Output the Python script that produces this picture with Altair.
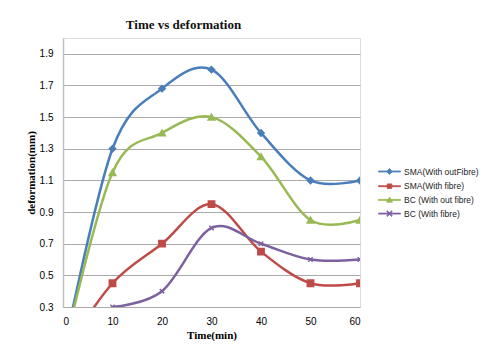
import altair as alt
import pandas as pd

series_names = ["SMA(With outFibre)", "SMA(With fibre)", "BC (With out fibre)", "BC (With fibre)"]
series_colors = ["#4A7EBB", "#BE4B48", "#98B954", "#7D60A0"]

time_full = [0, 10, 20, 30, 40, 50, 60]
sma_without = [0, 1.3, 1.68, 1.8, 1.4, 1.1, 1.1]
sma_with = [0, 0.45, 0.7, 0.95, 0.65, 0.45, 0.45]
bc_without = [0, 1.15, 1.4, 1.5, 1.25, 0.85, 0.85]
time_bc_with = [10, 20, 30, 40, 50, 60]
bc_with = [0.3, 0.4, 0.8, 0.7, 0.6, 0.6]

x_ticks = [0, 10, 20, 30, 40, 50, 60]
y_ticks = [0.3, 0.5, 0.7, 0.9, 1.1, 1.3, 1.5, 1.7, 1.9]

rows = []
for name, times, vals in [
    (series_names[0], time_full, sma_without),
    (series_names[1], time_full, sma_with),
    (series_names[2], time_full, bc_without),
    (series_names[3], time_bc_with, bc_with),
]:
    for t, v in zip(times, vals):
        rows.append({"series": name, "time": t, "value": v})
df = pd.DataFrame(rows)

plot_shapes = [
    ("diamond", 40),
    ("square", 40),
    ("triangle-up", 45),
    ("M-0.7,-0.7L0.7,0.7M-0.7,0.7L0.7,-0.7", 40),
]
# legend glyphs: a short line with the series marker on it (filled paths)
bar = "M-1.57,-0.07H1.57V0.07H-1.57Z"
legend_paths = [
    bar + "M0,-0.43L0.38,0L0,0.43L-0.38,0Z",
    bar + "M-0.33,-0.33H0.33V0.33H-0.33Z",
    bar + "M0,-0.4L0.42,0.32H-0.42Z",
    bar + "M-0.4,-0.3L-0.3,-0.4L0.4,0.3L0.3,0.4Z"
        + "M-0.4,0.3L0.3,-0.4L0.4,-0.3L-0.3,0.4Z",
]

color_scale = alt.Scale(domain=series_names, range=series_colors)
x_enc = alt.X("time:Q", scale=alt.Scale(domain=[0, 60], nice=False),
              axis=alt.Axis(values=x_ticks, tickCount=len(x_ticks), title="Time(min)",
                            grid=False, domain=False,
                            ticks=False, labelPadding=9, titlePadding=3, format="d",
                            labelOverlap=False, titleFont="Liberation Serif"))
y_enc = alt.Y("value:Q", scale=alt.Scale(domain=[0.3, 2.0], nice=False, zero=False),
              axis=alt.Axis(values=y_ticks, tickCount=len(y_ticks), title="deformation(mm)",
                            grid=True,
                            ticks=False, labelPadding=10, titlePadding=3, format=".1f",
                            labelOverlap=False, titleFont="Liberation Serif",
                            domainColor="#BFBFBF", domainWidth=1.5,
                            gridColor="#AAAAAA", gridWidth=1))

base = alt.Chart(df)

leg = alt.Legend(
    title=None, orient="none", legendX=319, legendY=126,
    symbolSize=196, symbolOpacity=1, symbolStrokeWidth=0.8, labelOffset=7, rowPadding=1.7,
    labelFont="Liberation Sans", labelFontSize=8.5, labelColor="#222222", labelLimit=200,
)

lines = base.mark_line(interpolate="cardinal", clip=True, strokeWidth=2.5).encode(
    x=x_enc, y=y_enc,
    color=alt.Color("series:N", scale=color_scale, sort=series_names, legend=leg),
)

point_layers = []
for name, col, (shp, sz) in zip(series_names, series_colors, plot_shapes):
    point_layers.append(
        base.transform_filter(alt.datum.series == name)
        .mark_point(filled=True, clip=True, shape=shp, size=sz, strokeWidth=1.5,
                    opacity=1, fill=col, stroke=col)
        .encode(x="time:Q", y="value:Q")
    )

legend_points = base.mark_point(filled=True, opacity=0, size=196).encode(
    x="time:Q", y="value:Q",
    color=alt.Color("series:N", scale=color_scale, sort=series_names, legend=leg),
    shape=alt.Shape("series:N", sort=series_names,
                    scale=alt.Scale(domain=series_names, range=legend_paths), legend=leg),
)

chart = alt.layer(lines, *point_layers, legend_points).properties(
    width=297, height=269,
    title=alt.TitleParams("Time vs deformation", font="Liberation Serif", fontSize=13,
                          fontWeight="bold", color="#111111", anchor="middle", dx=-28, offset=6),
    autosize=alt.AutoSizeParams(type="none"),
    padding={"left": 63, "top": 38, "right": 127, "bottom": 47},
).configure_view(stroke=None).configure_axis(
    labelFont="Liberation Sans", labelFontSize=9, labelColor="#333333",
    titleFont="Liberation Serif", titleFontSize=10, titleFontWeight="bold", titleColor="#222222",
).configure(background="white")

chart.save("out.html", embed_options={"renderer": "svg", "actions": False})
